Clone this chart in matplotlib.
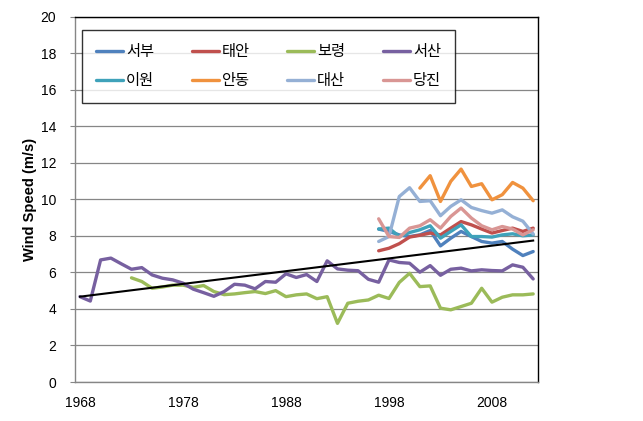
import matplotlib
matplotlib.use("Agg")
import matplotlib.pyplot as plt
import numpy as np

plt.rcParams['font.family'] = ['Liberation Sans', 'Noto Sans CJK KR', 'DejaVu Sans']

# ---- data ----
years_seosan = list(range(1968, 2013))
seosan = [4.67, 4.43, 6.68, 6.78, 6.47, 6.17, 6.26, 5.86, 5.68, 5.59,
          5.41, 5.08, 4.89, 4.69, 4.95, 5.35, 5.30, 5.10, 5.50, 5.46,
          5.92, 5.72, 5.88, 5.50, 6.63, 6.19, 6.12, 6.09, 5.62, 5.46,
          6.68, 6.54, 6.50, 6.01, 6.37, 5.84, 6.17, 6.23, 6.08, 6.14,
          6.10, 6.08, 6.41, 6.28, 5.64]

years_boryeong = list(range(1973, 2013))
boryeong = [5.70, 5.50, 5.13, 5.20, 5.30, 5.30, 5.18, 5.28, 4.95, 4.78,
            4.82, 4.89, 4.95, 4.84, 5.00, 4.67, 4.77, 4.82, 4.56, 4.67,
            3.21, 4.31, 4.42, 4.49, 4.75, 4.57, 5.45, 5.95, 5.22, 5.26,
            4.04, 3.95, 4.13, 4.31, 5.13, 4.37, 4.64, 4.77, 4.77, 4.82]

years_recent = list(range(1997, 2013))
seobu = [8.37, 8.24, 8.05, 7.96, 8.05, 8.29, 7.45, 7.87, 8.24, 7.96, 7.69, 7.60, 7.69, 7.27, 6.92, 7.14]
taean = [7.18, 7.32, 7.57, 7.93, 8.03, 8.15, 8.05, 8.42, 8.78, 8.60, 8.37, 8.15, 8.29, 8.42, 8.24, 8.42]
iwon = [8.37, 8.42, 7.96, 8.18, 8.33, 8.55, 7.87, 8.24, 8.60, 7.96, 7.96, 7.93, 8.05, 8.11, 8.00, 8.05]
daesan = [7.69, 7.96, 10.15, 10.63, 9.88, 9.92, 9.10, 9.61, 9.97, 9.55, 9.38, 9.24, 9.42, 9.04, 8.80, 8.10]
dangjin = [8.93, 7.96, 7.91, 8.42, 8.55, 8.88, 8.42, 9.06, 9.52, 8.97, 8.55, 8.33, 8.51, 8.37, 8.05, 8.33]

years_andong = list(range(2001, 2013))
andong = [10.61, 11.29, 9.88, 10.98, 11.65, 10.70, 10.85, 9.97, 10.25, 10.92, 10.61, 9.92]

trend_years = [1968, 2012]
trend_vals = [4.67, 7.74]

xtick_years = [1968, 1978, 1988, 1998, 2008]
yticks = list(range(0, 21, 2))

# ---- figure ----
fig = plt.figure(figsize=(6.43, 4.21), dpi=100)
ax = fig.add_axes([0.1164, 0.0926, 0.8372 - 0.1164, 0.9608 - 0.0926])

series = [
    ("서부", years_recent, seobu, "#4F81BD"),
    ("태안", years_recent, taean, "#C0504D"),
    ("보령", years_boryeong, boryeong, "#9BBB59"),
    ("서산", years_seosan, seosan, "#7760A0"),
    ("이원", years_recent, iwon, "#3FA2BA"),
    ("안동", years_andong, andong, "#F0923E"),
    ("대산", years_recent, daesan, "#95B0D5"),
    ("당진", years_recent, dangjin, "#D99694"),
]
handles = {}
for name, xs, ys, c in series:
    h, = ax.plot(xs, ys, color=c, lw=2.4, solid_capstyle='round', solid_joinstyle='round', label=name)
    handles[name] = h

ax.plot(trend_years, trend_vals, color='black', lw=1.5, zorder=5)

ax.set_xlim(1967.5, 2012.5)
ax.set_ylim(0, 20)
ax.set_xticks(xtick_years)
ax.set_yticks(yticks)
ax.yaxis.grid(True, color='#868686', lw=0.9)
ax.set_axisbelow(True)
ax.tick_params(axis='x', length=0, pad=10, labelsize=10)
ax.tick_params(axis='y', length=3.5, pad=10, labelsize=10, color='#868686', direction='out')
for s in ['left', 'bottom']:
    ax.spines[s].set_color('#868686')
for s in ['top', 'right']:
    ax.spines[s].set_color('black')
for s in ax.spines.values():
    s.set_linewidth(1.0)

ax.set_ylabel("Wind Speed (m/s)", fontsize=10.5, fontweight='bold', labelpad=2.5)

order = ["서부", "이원", "태안", "안동", "보령", "대산", "서산", "당진"]
leg = ax.legend([handles[n] for n in order], order, ncol=4, loc='upper left',
                bbox_to_anchor=(0.0148, 0.962), frameon=True, fancybox=False,
                edgecolor='black', fontsize=11, handlelength=1.76, handletextpad=0.2,
                columnspacing=2.46, borderpad=0.95, labelspacing=1.0,
                borderaxespad=0)
leg.get_frame().set_linewidth(1.0)

fig.savefig("out.png", dpi=100)
